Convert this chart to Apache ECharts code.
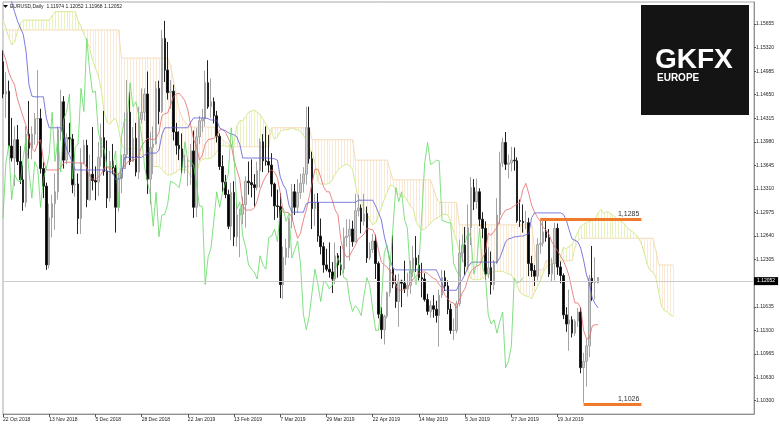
<!DOCTYPE html>
<html><head><meta charset="utf-8">
<script src="https://cdn.jsdelivr.net/npm/echarts@6/dist/echarts.min.js"></script>
<style>html,body{margin:0;padding:0;background:#fff}#c{width:780px;height:424px}</style>
</head><body><div id="c"></div>
<script>
// ---- data (EURUSD Daily, 22 Oct 2018 .. 8 Aug 2019) ----
const opens = [1.1512,1.1466,1.1470,1.1392,1.1375,1.1401,1.1370,1.1344,1.1312,1.1409,
1.1389,1.1409,1.1431,1.1431,1.1360,1.1335,1.1223,1.1290,1.1310,1.1327,
1.1416,1.1455,1.1372,1.1404,1.1402,1.1337,1.1338,1.1289,1.1368,1.1393,
1.1316,1.1352,1.1343,1.1341,1.1376,1.1404,1.1356,1.1318,1.1370,1.1361,
1.1305,1.1346,1.1360,1.1380,1.1440,1.1370,1.1403,1.1355,1.1430,1.1440,
1.1466,1.1345,1.1390,1.1395,1.1474,1.1441,1.1545,1.1500,1.1468,1.1470,
1.1412,1.1393,1.1388,1.1362,1.1363,1.1363,1.1385,1.1305,1.1405,1.1428,
1.1431,1.1482,1.1448,1.1455,1.1435,1.1406,1.1363,1.1341,1.1323,1.1278,
1.1326,1.1263,1.1294,1.1295,1.1309,1.1342,1.1340,1.1337,1.1333,1.1357,
1.1398,1.1371,1.1370,1.1365,1.1338,1.1307,1.1306,1.1195,1.1234,1.1247,
1.1286,1.1327,1.1305,1.1326,1.1339,1.1352,1.1418,1.1374,1.1303,1.1312,
1.1264,1.1249,1.1223,1.1217,1.1213,1.1203,1.1236,1.1223,1.1217,1.1262,
1.1264,1.1274,1.1256,1.1300,1.1304,1.1285,1.1296,1.1233,1.1245,1.1257,
1.1225,1.1153,1.1131,1.1150,1.1184,1.1217,1.1196,1.1171,1.1200,1.1197,
1.1189,1.1194,1.1214,1.1233,1.1223,1.1205,1.1203,1.1174,1.1157,1.1165,
1.1160,1.1151,1.1180,1.1205,1.1193,1.1160,1.1130,1.1130,1.1168,1.1240,
1.1251,1.1221,1.1276,1.1333,1.1313,1.1327,1.1288,1.1275,1.1210,1.1219,
1.1195,1.1226,1.1294,1.1368,1.1397,1.1366,1.1368,1.1372,1.1371,1.1286,
1.1285,1.1283,1.1283,1.1225,1.1215,1.1207,1.1252,1.1254,1.1270,1.1262,
1.1210,1.1225,1.1275,1.1220,1.1208,1.1152,1.1139,1.1145,1.1126,1.1143,
1.1156,1.1077,1.1086,1.1108,1.1204,1.1198,1.11974];
const highs = [1.1528,1.1497,1.1485,1.1432,1.1420,1.1422,1.1392,1.1365,1.1420,1.1456,
1.1420,1.1439,1.1500,1.1445,1.1369,1.1340,1.1310,1.1323,1.1353,1.1420,
1.1472,1.1463,1.1410,1.1425,1.1409,1.1380,1.1353,1.1389,1.1401,1.1401,
1.1380,1.1419,1.1363,1.1398,1.1424,1.1442,1.1400,1.1385,1.1395,1.1365,
1.1354,1.1380,1.1440,1.1486,1.1469,1.1419,1.1425,1.1448,1.1474,1.1474,
1.1498,1.1412,1.1420,1.1484,1.1485,1.1557,1.1570,1.1540,1.1486,1.1479,
1.1425,1.1413,1.1410,1.1380,1.1375,1.1395,1.1414,1.1418,1.1435,1.1445,
1.1499,1.1514,1.1488,1.1461,1.1442,1.1410,1.1379,1.1351,1.1330,1.1340,
1.1342,1.1310,1.1303,1.1320,1.1349,1.1370,1.1373,1.1352,1.1370,1.1403,
1.1409,1.1420,1.1408,1.1382,1.1340,1.1330,1.1325,1.1249,1.1260,1.1290,
1.1338,1.1338,1.1345,1.1353,1.1362,1.1448,1.1448,1.1384,1.1324,1.1325,
1.1289,1.1255,1.1246,1.1255,1.1227,1.1255,1.1240,1.1250,1.1276,1.1288,
1.1288,1.1286,1.1324,1.1323,1.1309,1.1324,1.1306,1.1255,1.1267,1.1266,
1.1228,1.1163,1.1152,1.1185,1.1225,1.1265,1.1209,1.1210,1.1202,1.1229,
1.1212,1.1229,1.1250,1.1264,1.1237,1.1226,1.1211,1.1182,1.1172,1.1180,
1.1172,1.1188,1.1216,1.1215,1.1201,1.1168,1.1147,1.1172,1.1259,1.1266,
1.1277,1.1309,1.1348,1.1345,1.1346,1.1332,1.1298,1.1285,1.1248,1.1242,
1.1230,1.1318,1.1384,1.1404,1.1412,1.1380,1.1391,1.1390,1.1376,1.1316,
1.1309,1.1300,1.1290,1.1236,1.1223,1.1261,1.1286,1.1286,1.1287,1.1274,
1.1233,1.1283,1.1282,1.1228,1.1211,1.1163,1.1188,1.1150,1.1146,1.1162,
1.1163,1.1098,1.1118,1.1209,1.1250,1.1234,1.12052];
const lows = [1.1460,1.1432,1.1389,1.1370,1.1335,1.1365,1.1338,1.1300,1.1305,1.1374,
1.1373,1.1394,1.1393,1.1353,1.1318,1.1216,1.1218,1.1262,1.1273,1.1316,
1.1400,1.1360,1.1366,1.1383,1.1325,1.1320,1.1267,1.1267,1.1366,1.1305,
1.1314,1.1329,1.1315,1.1321,1.1363,1.1350,1.1304,1.1313,1.1352,1.1269,
1.1299,1.1325,1.1360,1.1375,1.1365,1.1370,1.1349,1.1345,1.1424,1.1428,
1.1324,1.1309,1.1352,1.1394,1.1423,1.1439,1.1483,1.1458,1.1445,1.1400,
1.1380,1.1372,1.1353,1.1353,1.1335,1.1337,1.1290,1.1291,1.1395,1.1412,
1.1420,1.1445,1.1432,1.1424,1.1397,1.1358,1.1327,1.1318,1.1274,1.1258,
1.1250,1.1249,1.1234,1.1281,1.1276,1.1323,1.1319,1.1306,1.1329,1.1333,
1.1355,1.1364,1.1354,1.1320,1.1287,1.1290,1.1176,1.1175,1.1223,1.1233,
1.1275,1.1294,1.1297,1.1317,1.1326,1.1337,1.1367,1.1274,1.1278,1.1256,
1.1238,1.1212,1.1214,1.1205,1.1183,1.1196,1.1205,1.1208,1.1211,1.1249,
1.1229,1.1249,1.1255,1.1292,1.1268,1.1279,1.1226,1.1230,1.1240,1.1203,
1.1147,1.1118,1.1110,1.1147,1.1178,1.1190,1.1162,1.1135,1.1163,1.1183,
1.1178,1.1182,1.1206,1.1213,1.1201,1.1177,1.1171,1.1152,1.1148,1.1148,
1.1141,1.1107,1.1176,1.1186,1.1153,1.1125,1.1116,1.1126,1.1164,1.1227,
1.1209,1.1216,1.1251,1.1301,1.1303,1.1278,1.1261,1.1202,1.1204,1.1181,
1.1187,1.1224,1.1281,1.1362,1.1358,1.1346,1.1356,1.1357,1.1283,1.1277,
1.1269,1.1274,1.1207,1.1206,1.1193,1.1201,1.1239,1.1249,1.1256,1.1206,
1.1200,1.1201,1.1209,1.1197,1.1146,1.1128,1.1101,1.1120,1.1122,1.1135,
1.1069,1.1027,1.1050,1.1092,1.1172,1.1174,1.11968];
const closes = [1.1466,1.1470,1.1392,1.1375,1.1401,1.1370,1.1344,1.1312,1.1409,1.1389,
1.1409,1.1431,1.1431,1.1360,1.1335,1.1223,1.1290,1.1310,1.1327,1.1416,
1.1455,1.1372,1.1404,1.1402,1.1337,1.1338,1.1289,1.1368,1.1393,1.1316,
1.1352,1.1343,1.1341,1.1376,1.1404,1.1356,1.1318,1.1370,1.1361,1.1305,
1.1346,1.1360,1.1380,1.1440,1.1370,1.1403,1.1355,1.1430,1.1440,1.1466,
1.1345,1.1390,1.1395,1.1474,1.1441,1.1545,1.1500,1.1468,1.1470,1.1412,
1.1393,1.1388,1.1362,1.1363,1.1363,1.1385,1.1305,1.1405,1.1428,1.1431,
1.1482,1.1448,1.1455,1.1435,1.1406,1.1363,1.1341,1.1323,1.1278,1.1326,
1.1263,1.1294,1.1295,1.1309,1.1342,1.1340,1.1337,1.1333,1.1357,1.1398,
1.1371,1.1370,1.1365,1.1338,1.1307,1.1306,1.1195,1.1234,1.1247,1.1286,
1.1327,1.1305,1.1326,1.1339,1.1352,1.1418,1.1374,1.1303,1.1312,1.1264,
1.1249,1.1223,1.1217,1.1213,1.1203,1.1236,1.1223,1.1217,1.1262,1.1264,
1.1274,1.1256,1.1300,1.1304,1.1285,1.1296,1.1233,1.1245,1.1257,1.1225,
1.1153,1.1131,1.1150,1.1184,1.1217,1.1196,1.1171,1.1200,1.1197,1.1189,
1.1194,1.1214,1.1233,1.1223,1.1205,1.1203,1.1174,1.1157,1.1165,1.1160,
1.1151,1.1180,1.1205,1.1193,1.1160,1.1130,1.1130,1.1168,1.1240,1.1251,
1.1221,1.1276,1.1333,1.1313,1.1327,1.1288,1.1275,1.1210,1.1219,1.1195,
1.1226,1.1294,1.1368,1.1397,1.1366,1.1368,1.1372,1.1371,1.1286,1.1285,
1.1283,1.1283,1.1225,1.1215,1.1207,1.1252,1.1254,1.1270,1.1262,1.1210,
1.1225,1.1275,1.1220,1.1208,1.1152,1.1139,1.1145,1.1126,1.1143,1.1156,
1.1077,1.1086,1.1108,1.1204,1.1198,1.1199,1.12052];
// Ichimoku lines
const tenkan = [1.1526,1.1514,1.1497,1.1487,1.1479,1.1459,1.1446,1.1433,1.1421,1.1401,
1.1389,1.1384,1.1396,1.1401,1.1372,1.1358,1.1358,1.1358,1.1358,1.1358,
1.1362,1.1368,1.1369,1.1369,1.1369,1.1368,1.1368,1.1368,1.1368,1.1361,
1.1349,1.1345,1.1345,1.1348,1.1352,1.1361,1.1361,1.1361,1.1358,1.1352,
1.1352,1.1358,1.1363,1.1369,1.1371,1.1372,1.1374,1.1379,1.1392,1.1398,
1.1403,1.1402,1.1401,1.1403,1.1411,1.1435,1.1438,1.1439,1.1450,1.1462,
1.1466,1.1467,1.1462,1.1456,1.1443,1.1421,1.1401,1.1392,1.1372,1.1379,
1.1395,1.1401,1.1402,1.1403,1.1406,1.1415,1.1416,1.1412,1.1403,1.1394,
1.1372,1.1358,1.1344,1.1308,1.1301,1.1301,1.1301,1.1304,1.1314,1.1330,
1.1341,1.1349,1.1355,1.1358,1.1355,1.1347,1.1325,1.1298,1.1298,1.1297,
1.1291,1.1275,1.1261,1.1268,1.1287,1.1301,1.1320,1.1339,1.1359,1.1359,
1.1348,1.1334,1.1327,1.1327,1.1315,1.1301,1.1294,1.1258,1.1241,1.1234,
1.1236,1.1244,1.1251,1.1260,1.1263,1.1267,1.1275,1.1274,1.1273,1.1264,
1.1244,1.1227,1.1223,1.1220,1.1214,1.1209,1.1193,1.1187,1.1187,1.1188,
1.1191,1.1197,1.1203,1.1207,1.1211,1.1213,1.1213,1.1211,1.1207,1.1204,
1.1202,1.1195,1.1190,1.1180,1.1175,1.1170,1.1169,1.1162,1.1173,1.1183,
1.1190,1.1204,1.1214,1.1218,1.1221,1.1223,1.1233,1.1241,1.1268,1.1265,
1.1271,1.1276,1.1287,1.1295,1.1301,1.1302,1.1304,1.1307,1.1310,1.1312,
1.1330,1.1339,1.1325,1.1308,1.1298,1.1291,1.1285,1.1276,1.1273,1.1267,
1.1256,1.1249,1.1243,1.1236,1.1229,1.1219,1.1207,1.1187,1.1169,1.1169,
1.1162,1.1130,1.1118,1.1119,1.1136,1.1138,1.1138];
const kijun = [1.1614,1.1610,1.1605,1.1597,1.1583,1.1570,1.1560,1.1551,1.1526,1.1479,
1.1463,1.1462,1.1462,1.1462,1.1462,1.1432,1.1418,1.1418,1.1418,1.1418,
1.1418,1.1405,1.1388,1.1379,1.1369,1.1358,1.1358,1.1358,1.1358,1.1358,
1.1358,1.1358,1.1358,1.1358,1.1358,1.1358,1.1357,1.1355,1.1355,1.1344,
1.1345,1.1347,1.1375,1.1376,1.1376,1.1376,1.1376,1.1376,1.1376,1.1379,
1.1382,1.1382,1.1382,1.1382,1.1386,1.1408,1.1418,1.1418,1.1418,1.1418,
1.1418,1.1418,1.1418,1.1418,1.1418,1.1426,1.1432,1.1432,1.1432,1.1432,
1.1432,1.1431,1.1429,1.1429,1.1429,1.1418,1.1415,1.1414,1.1411,1.1409,
1.1408,1.1405,1.1394,1.1375,1.1375,1.1375,1.1375,1.1375,1.1375,1.1375,
1.1375,1.1375,1.1375,1.1374,1.1374,1.1372,1.1348,1.1337,1.1330,1.1308,
1.1298,1.1298,1.1298,1.1298,1.1298,1.1310,1.1312,1.1312,1.1312,1.1312,
1.1312,1.1312,1.1312,1.1312,1.1312,1.1312,1.1312,1.1312,1.1312,1.1312,
1.1312,1.1312,1.1312,1.1315,1.1315,1.1315,1.1315,1.1315,1.1315,1.1307,
1.1297,1.1287,1.1264,1.1247,1.1230,1.1219,1.1216,1.1216,1.1216,1.1216,
1.1216,1.1216,1.1216,1.1216,1.1216,1.1216,1.1216,1.1216,1.1216,1.1216,
1.1216,1.1207,1.1197,1.1187,1.1187,1.1187,1.1187,1.1187,1.1196,1.1202,
1.1210,1.1220,1.1226,1.1227,1.1227,1.1227,1.1227,1.1227,1.1227,1.1227,
1.1227,1.1227,1.1233,1.1244,1.1256,1.1260,1.1261,1.1263,1.1263,1.1264,
1.1264,1.1266,1.1267,1.1290,1.1297,1.1297,1.1297,1.1297,1.1297,1.1297,
1.1297,1.1297,1.1297,1.1297,1.1295,1.1287,1.1273,1.1260,1.1258,1.1256,
1.1247,1.1230,1.1209,1.1197,1.1176,1.1168,1.1162];
const spanA = [1.1571,1.1560,1.1546,1.1536,1.1540,1.1554,1.1566,1.1571,1.1571,1.1571,
1.1571,1.1571,1.1571,1.1571,1.1571,1.1571,1.1571,1.1577,1.1583,1.1583,
1.1583,1.1583,1.1583,1.1583,1.1583,1.1583,1.1570,1.1562,1.1551,1.1542,
1.1531,1.1514,1.1503,1.1492,1.1473,1.1440,1.1426,1.1423,1.1429,1.1431,
1.1417,1.1395,1.1388,1.1388,1.1388,1.1388,1.1390,1.1386,1.1379,1.1374,
1.1369,1.1363,1.1363,1.1363,1.1363,1.1359,1.1354,1.1351,1.1351,1.1353,
1.1355,1.1359,1.1359,1.1358,1.1357,1.1348,1.1349,1.1352,1.1369,1.1373,
1.1374,1.1374,1.1375,1.1378,1.1384,1.1389,1.1393,1.1392,1.1391,1.1393,
1.1398,1.1421,1.1428,1.1428,1.1434,1.1440,1.1442,1.1443,1.1440,1.1437,
1.1430,1.1423,1.1416,1.1412,1.1402,1.1405,1.1413,1.1415,1.1415,1.1416,
1.1418,1.1416,1.1415,1.1413,1.1407,1.1401,1.1390,1.1381,1.1369,1.1342,
1.1338,1.1338,1.1338,1.1339,1.1344,1.1352,1.1358,1.1362,1.1365,1.1366,
1.1364,1.1359,1.1337,1.1317,1.1314,1.1302,1.1295,1.1287,1.1280,1.1283,
1.1293,1.1305,1.1316,1.1326,1.1336,1.1336,1.1330,1.1323,1.1320,1.1320,
1.1314,1.1307,1.1303,1.1285,1.1277,1.1273,1.1274,1.1278,1.1282,1.1287,
1.1289,1.1291,1.1295,1.1295,1.1294,1.1285,1.1270,1.1257,1.1243,1.1233,
1.1222,1.1214,1.1204,1.1202,1.1202,1.1202,1.1204,1.1207,1.1209,1.1212,
1.1214,1.1214,1.1214,1.1214,1.1212,1.1210,1.1209,1.1201,1.1194,1.1184,
1.1181,1.1179,1.1178,1.1175,1.1184,1.1192,1.1200,1.1212,1.1220,1.1223,
1.1224,1.1225,1.1230,1.1234,1.1248,1.1246,1.1249,1.1252,1.1260,1.1270,
1.1278,1.1281,1.1283,1.1285,1.1286,1.1288,1.1297,1.1302,1.1296,1.1299,
1.1297,1.1294,1.1291,1.1287,1.1285,1.1282,1.1276,1.1273,1.1270,1.1266,
1.1262,1.1253,1.1240,1.1224,1.1215,1.1213,1.1206,1.1184,1.1164,1.1158,
1.1156,1.1152,1.1150];
const spanB = [1.1557,1.1557,1.1557,1.1557,1.1557,1.1557,1.1557,1.1557,1.1557,1.1557,
1.1557,1.1557,1.1557,1.1557,1.1557,1.1557,1.1557,1.1557,1.1557,1.1557,
1.1557,1.1557,1.1557,1.1557,1.1557,1.1557,1.1557,1.1557,1.1557,1.1557,
1.1557,1.1557,1.1557,1.1557,1.1557,1.1557,1.1557,1.1557,1.1557,1.1557,
1.1557,1.1517,1.1517,1.1517,1.1517,1.1517,1.1517,1.1517,1.1517,1.1517,
1.1517,1.1517,1.1517,1.1517,1.1517,1.1517,1.1517,1.1517,1.1506,1.1486,
1.1465,1.1443,1.1432,1.1426,1.1422,1.1419,1.1419,1.1419,1.1419,1.1419,
1.1419,1.1419,1.1419,1.1419,1.1412,1.1405,1.1401,1.1398,1.1395,1.1391,
1.1391,1.1391,1.1391,1.1391,1.1391,1.1391,1.1391,1.1391,1.1391,1.1391,
1.1391,1.1391,1.1391,1.1418,1.1418,1.1418,1.1418,1.1418,1.1418,1.1418,
1.1418,1.1418,1.1418,1.1418,1.1418,1.1418,1.1418,1.1401,1.1401,1.1401,
1.1401,1.1401,1.1401,1.1401,1.1401,1.1401,1.1401,1.1401,1.1401,1.1401,
1.1401,1.1401,1.1372,1.1372,1.1372,1.1372,1.1372,1.1372,1.1372,1.1372,
1.1372,1.1372,1.1372,1.1372,1.1358,1.1344,1.1344,1.1344,1.1344,1.1344,
1.1344,1.1344,1.1344,1.1344,1.1344,1.1344,1.1344,1.1344,1.1344,1.1332,
1.1319,1.1312,1.1312,1.1312,1.1312,1.1312,1.1312,1.1312,1.1280,1.1280,
1.1280,1.1280,1.1280,1.1280,1.1280,1.1280,1.1280,1.1280,1.1280,1.1280,
1.1280,1.1280,1.1280,1.1280,1.1280,1.1280,1.1280,1.1280,1.1280,1.1280,
1.1280,1.1280,1.1280,1.1280,1.1247,1.1216,1.1216,1.1216,1.1229,1.1229,
1.1229,1.1229,1.1229,1.1229,1.1229,1.1229,1.1229,1.1229,1.1247,1.1257,
1.1261,1.1261,1.1261,1.1261,1.1261,1.1261,1.1261,1.1261,1.1261,1.1261,
1.1261,1.1261,1.1261,1.1261,1.1261,1.1261,1.1261,1.1261,1.1261,1.1261,
1.1261,1.1261,1.1261,1.1261,1.1261,1.1261,1.1244,1.1223,1.1223,1.1223,
1.1223,1.1223,1.1223];
const chikouShift = 26;
const tickLabels = ['22 Oct 2018','13 Nov 2018','5 Dec 2018','28 Dec 2018','22 Jan 2019','13 Feb 2019','7 Mar 2019','29 Mar 2019','22 Apr 2019','14 May 2019','5 Jun 2019','27 Jun 2019','19 Jul 2019'];
const tickEvery = 16;
const priceTicks = [1.15655,1.15320,1.14985,1.14650,1.14315,1.13980,1.13645,1.13310,1.12975,1.12640,1.12305,1.11970,1.11635,1.11300,1.10965,1.10630,1.10300];
const currentPrice = 1.12052;
const titleText = 'EURUSD,Daily  1.11974 1.12052 1.11968 1.12052';
const levelValues = [1.1288, 1.1025];
const levelLabels = ['1,1285', '1,1026'];
const levelStart = [186, 201];
const levelEnd = 221;
const totalSlots = 261;

// ---- chart ----
const cats = Array.from({length: totalSlots}, (_, i) => String(i));
const candleData = opens.map((o, i) => [o, closes[i], lows[i], highs[i]]);
const chikou = closes.slice(chikouShift);
const cloudData = spanA.map((a, i) => [i, spanB[i], a]);
const FONT = 'Liberation Sans';
const showTick = (i) => i % tickEvery === 0 && i / tickEvery < tickLabels.length;

const chart = echarts.init(document.getElementById('c'), null, {renderer: 'canvas'});
chart.setOption({
  animation: false,
  backgroundColor: '#ffffff',
  grid: {left: 2, top: 2, right: 26, bottom: 10, show: true, borderColor: '#a8a8a8', borderWidth: 1, backgroundColor: 'transparent'},
  xAxis: {
    type: 'category', data: cats, boundaryGap: false,
    axisLine: {show: true, lineStyle: {color: '#909090', width: 1}},
    axisTick: {show: true, interval: (i) => showTick(i), length: 3, lineStyle: {color: '#555'}},
    axisLabel: {show: true, interval: (i) => showTick(i), formatter: (v, i) => tickLabels[i / tickEvery] || '',
      align: 'left', fontSize: 5, color: '#222', margin: 3, fontFamily: FONT},
    splitLine: {show: false}
  },
  yAxis: {
    type: 'value', position: 'right', min: 1.10111, max: 1.15968, scale: true,
    axisLine: {show: true, lineStyle: {color: '#909090', width: 1}},
    axisTick: {show: true, customValues: priceTicks, length: 2, lineStyle: {color: '#555'}},
    axisLabel: {show: true, customValues: priceTicks, formatter: (v) => v.toFixed(5), fontSize: 5, color: '#222', margin: 2, fontFamily: FONT, hideOverlap: false},
    splitLine: {show: false}
  },
  series: [
    {
      type: 'custom', name: 'cloud', data: cloudData, z: 1, clip: true, silent: true,
      encode: {x: 0, y: [1, 2]},
      renderItem: (params, api) => {
        const i = api.value(0), b = api.value(1), a = api.value(2);
        const p1 = api.coord([i, a]), p2 = api.coord([i, b]);
        const x = Math.round(p1[0]) + 0.5;
        return {type: 'line', shape: {x1: x, y1: p1[1], x2: x, y2: p2[1]},
          style: {stroke: a >= b ? '#e9f3c2' : '#f8ead6', lineWidth: 1}};
      }
    },
    {type: 'line', name: 'Senkou A', data: spanA, showSymbol: false, z: 2, lineStyle: {color: '#d6e98e', width: 1}, silent: true},
    {type: 'line', name: 'Senkou B', data: spanB, showSymbol: false, z: 2, lineStyle: {color: '#f3dcb8', width: 1}, silent: true},
    {
      type: 'candlestick', name: 'EURUSD', data: candleData, barWidth: 2, z: 3,
      itemStyle: {color: '#cfcfcf', borderColor: '#a4a4a4', color0: '#000000', borderColor0: '#222222', borderWidth: 1},
      markLine: {
        silent: true, symbol: ['none', 'none'], animation: false,
        data: [
          {yAxis: currentPrice, lineStyle: {color: '#cccccc', width: 1, type: 'solid'},
            label: {show: true, position: 'end', formatter: currentPrice.toFixed(5), backgroundColor: '#000', color: '#fff',
              fontSize: 5, padding: [2, 3, 1, 3], distance: 0, fontFamily: FONT}},
          [{coord: [levelStart[0], levelValues[0]], lineStyle: {color: '#f07a2a', width: 3, type: 'solid'},
             label: {show: true, position: 'insideEndTop', formatter: levelLabels[0], color: '#333', fontSize: 7, fontFamily: FONT, distance: 2}},
           {coord: [levelEnd, levelValues[0]]}],
          [{coord: [levelStart[1], levelValues[1]], lineStyle: {color: '#f07a2a', width: 3, type: 'solid'},
             label: {show: true, position: 'insideEndTop', formatter: levelLabels[1], color: '#333', fontSize: 7, fontFamily: FONT, distance: 2}},
           {coord: [levelEnd, levelValues[1]]}]
        ]
      }
    },
    {type: 'line', name: 'Tenkan', data: tenkan, showSymbol: false, z: 4, lineStyle: {color: '#e56a6a', width: 0.8}, silent: true},
    {type: 'line', name: 'Kijun', data: kijun, showSymbol: false, z: 4, lineStyle: {color: '#5a5ad6', width: 0.8}, silent: true},
    {type: 'line', name: 'Chikou', data: chikou, showSymbol: false, z: 4, lineStyle: {color: '#62d862', width: 0.8}, silent: true}
  ],
  graphic: [
    {type: 'polygon', left: 3, top: 5, z: 50, shape: {points: [[0, 0], [5, 0], [2.5, 3]]}, style: {fill: '#111'}},
    {type: 'text', left: 10, top: 4, z: 50, style: {text: titleText, font: '5px ' + FONT, fill: '#222'}},
    {type: 'rect', left: 641, top: 5, z: 60, shape: {width: 108, height: 110}, style: {fill: '#141414'}},
    {type: 'text', left: 655, top: 46, z: 61, style: {text: 'GKFX', font: 'bold 28px "Liberation Sans"', fill: '#ffffff'}},
    {type: 'text', left: 657, top: 73, z: 61, style: {text: 'EUROPE', font: 'bold 10px "Liberation Sans"', fill: '#ffffff'}}
  ]
});
</script>
</body></html>
